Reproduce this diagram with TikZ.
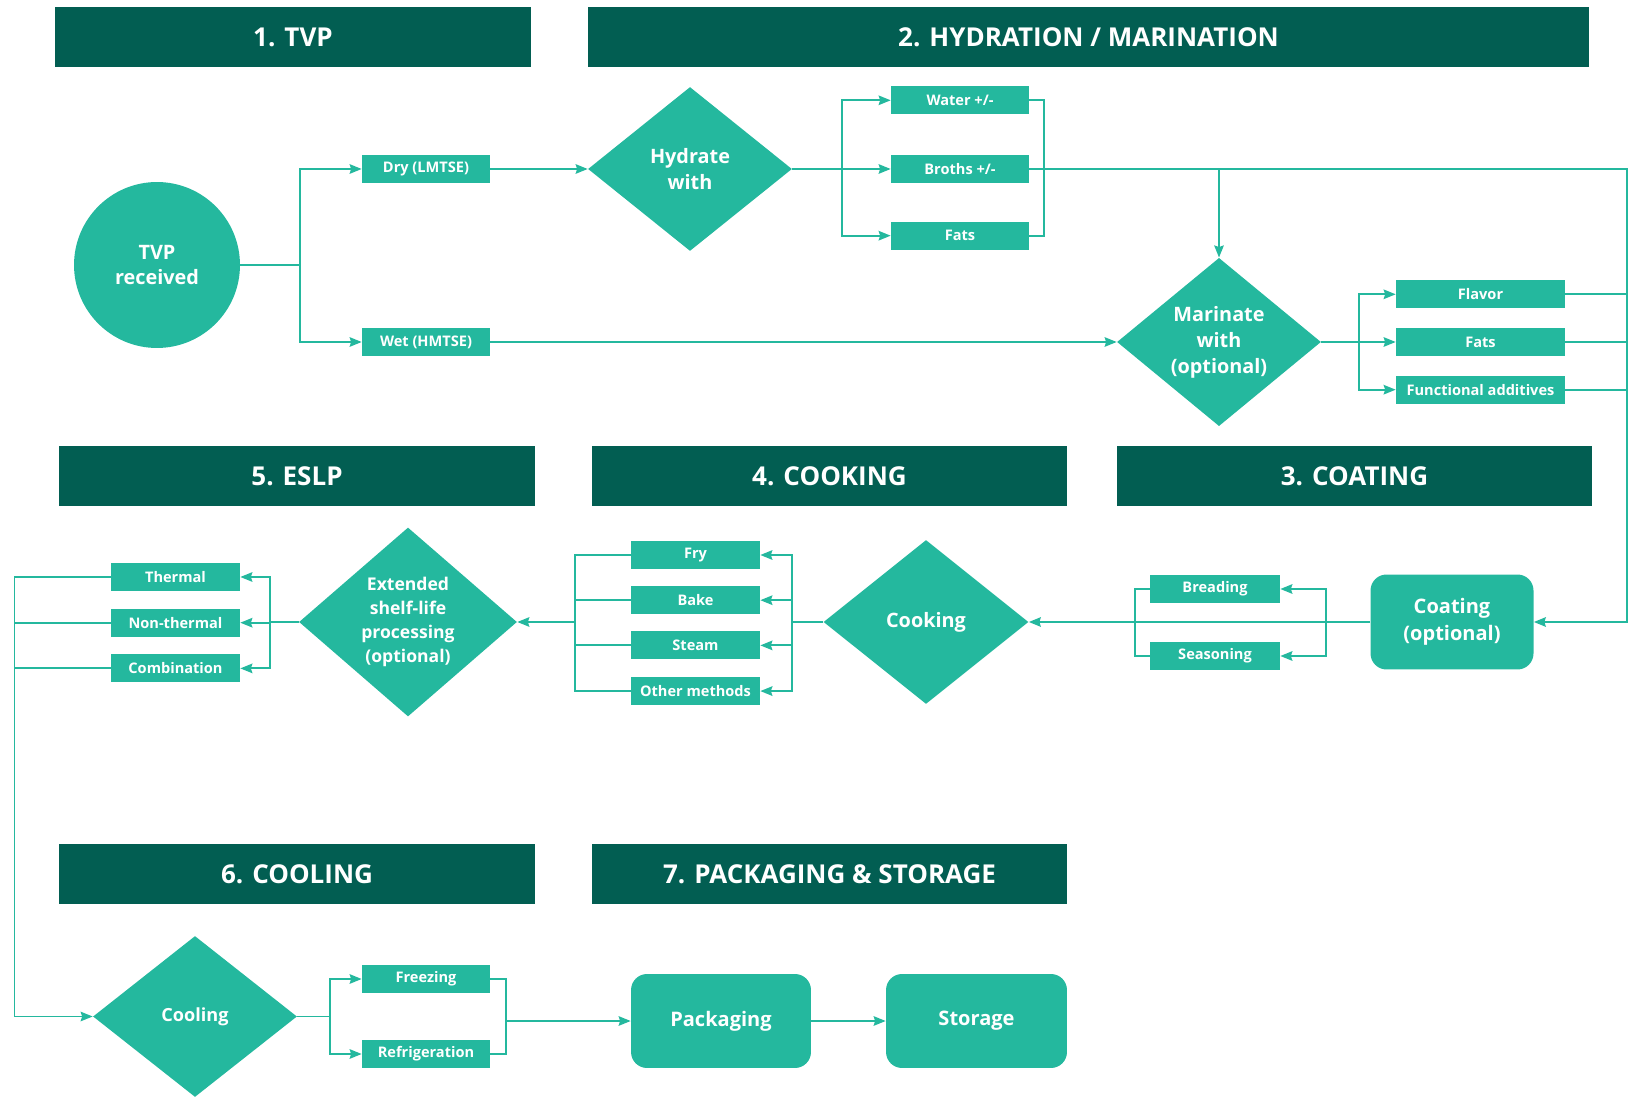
\documentclass[tikz,border=0pt]{standalone}
\usepackage{fontspec}
\setmainfont{Open Sans}
\usepackage{tikz}
\usetikzlibrary{shapes.geometric,arrows.meta,positioning,calc}
\definecolor{darkteal}{RGB}{2,94,82}
\definecolor{mint}{RGB}{36,184,158}
\tikzset{
	hdr/.style     = {rectangle,fill=darkteal,text=white,minimum width=9.52cm,
		minimum height=1.2cm,font=\bfseries\fontsize{14.8}{17}\selectfont},
	opt/.style     = {rectangle,fill=mint,text=white,minimum width=2.58cm,
		minimum height=0.56cm,inner sep=0pt,
		font=\bfseries\fontsize{8.3}{10}\selectfont},
	dec/.style     = {diamond,fill=mint,text=white,minimum width=4.08cm,
		minimum height=3.28cm,inner sep=0pt,align=center,
		font=\bfseries\fontsize{11.3}{14.8}\selectfont},
	stepbox/.style = {rectangle,rounded corners=0.32cm,fill=mint,text=white,
		minimum width=3.6cm,minimum height=1.88cm,align=center,
		font=\bfseries\fontsize{11.4}{15.4}\selectfont},
	startc/.style  = {circle,fill=mint,text=white,minimum size=3.32cm,
		inner sep=0pt,align=center,
		font=\bfseries\fontsize{11.3}{14.6}\selectfont},
	ln/.style      = {mint,line width=1.1pt},
	arr/.style     = {ln,-{Stealth[length=0.24cm,width=0.19cm,inset=0.03cm]}},
}

\begin{document}
\begin{tikzpicture}[x=0.02cm,y=-0.02cm]
	\useasboundingbox (0,0) rectangle (1629,1097);
	
	%% Bandeaux
	\node (h1) [hdr] at (293,37.5) {1. TVP};
	\node (h2) [hdr,minimum width=20.02cm] at (1088.5,37.5) {2. HYDRATION / MARINATION};
	\node (h5) [hdr] at (297,476) {5. ESLP};
	\node (h4) [hdr] at (829.5,476) {4. COOKING};
	\node (h3) [hdr] at (1354.5,476) {3. COATING};
	\node (h6) [hdr] at (297,874) {6. COOLING};
	\node (h7) [hdr] at (829.5,874) {7. PACKAGING \& STORAGE};
	
	%% 1. TVP
	\node (tvp) [startc] at (157,265) {TVP\\received};
	\node (dry) [opt,minimum width=2.56cm] at (426,169) {Dry (LMTSE)};
	\node (wet) [opt,minimum width=2.56cm] at (426,342) {Wet (HMTSE)};
	
	%% 2. Hydratation / marinade
	\node (hyd) [dec] at (690,169) {Hydrate\\with};
	\node (broths) [opt,minimum width=2.76cm] at (960,169) {Broths +/-};
	\node (water)  [opt,minimum width=2.76cm,above=0.8cm of broths] {Water +/-};
	\node (fats1)  [opt,minimum width=2.76cm,below=0.76cm of broths] {Fats};
	
	\node (mar) [dec] at (1219,342) {Marinate\\with\\(optional)};
	\node (fats2)  [opt,minimum width=3.38cm] at (1480.5,342) {Fats};
	\node (flavor) [opt,minimum width=3.38cm,above=0.38cm of fats2] {Flavor};
	\node (func)   [opt,minimum width=3.38cm,below=0.38cm of fats2] {Functional additives};
	
	%% 3. Coating
	\node (coat) [stepbox,minimum width=3.26cm,minimum height=1.9cm] at (1452,622)
	{Coating\\(optional)};
	\node (bread)  [opt,minimum width=2.6cm] at (1215,589) {Breading};
	\node (season) [opt,minimum width=2.6cm] at (1215,656) {Seasoning};
	
	%% 4. Cooking
	\node (cook) [dec,minimum width=4.1cm] at (926,622) {Cooking};
	\node (fry)   [opt] at (695.5,555) {Fry};
	\node (bake)  [opt,below=0.33cm of fry]  {Bake};
	\node (steam) [opt,below=0.33cm of bake] {Steam};
	\node (other) [opt,below=0.34cm of steam] {Other methods};
	
	%% 5. ESLP
	\node (eslp) [dec,minimum width=4.36cm,minimum height=3.78cm,
	font=\bfseries\fontsize{10}{13.6}\selectfont] at (408,622)
	{Extended\\shelf-life\\processing\\(optional)};
	\node (therm)    [opt] at (175.5,577) {Thermal};
	\node (nontherm) [opt,below=0.34cm of therm]    {Non-thermal};
	\node (combi)    [opt,below=0.34cm of nontherm] {Combination};
	
	%% 6. Cooling / 7. Packaging
	\node (cool) [dec,minimum height=3.22cm,
	font=\bfseries\fontsize{10.3}{13}\selectfont] at (195,1016.5) {Cooling};
	\node (freeze) [opt,minimum width=2.56cm] at (426,979) {Freezing};
	\node (refr)   [opt,minimum width=2.56cm] at (426,1054) {Refrigeration};
	\node (pack) [stepbox] at (721,1021) {Packaging};
	\node (stor) [stepbox,minimum width=3.62cm] at (976.5,1021) {Storage};
	
	%% Points de branchement
	\coordinate (t1) at (300,265);
	\coordinate (t2) at (842,169);
	\coordinate (t3) at (1359,342);
	\coordinate (e1) at (1627,169);
	\coordinate (t4) at (1326,622);
	\coordinate (t5) at (792,622);
	\coordinate (c5) at (575,622);
	\coordinate (t6) at (270,622);
	\coordinate (c6) at (14.5,1016.5);
	\coordinate (t7) at (330,1016.5);
	\coordinate (c7) at (506,1021);
	
	%% Fleches
	\draw[ln](tvp.east)--(t1);
	\draw[arr](t1)|-(dry.west);
	\draw[arr](t1)|-(wet.west);
	\draw[arr](dry.east)--(hyd.west);
	\draw[arr](wet.east)--(mar.west);
	
	\draw[ln](hyd.east)--(t2);
	\foreach \b in {water,broths,fats1} \draw[arr](t2)|-(\b.west);
	\draw[ln](water.east)--++(15,0)|-(fats1.east);
	\draw[arr](broths.east)--(e1)|-(coat.east);
	\draw[arr](broths.east -| mar.north)--(mar.north);
	
	\draw[ln](mar.east)--(t3);
	\foreach \b in {flavor,fats2,func} {
		\draw[arr](t3)|-(\b.west);
		\draw[ln](\b.east)--(\b.east -| e1);
	}
	
	\draw[arr](coat.west)--(cook.east);
	\draw[arr](t4)|-(bread.east);
	\draw[arr](t4)|-(season.east);
	\draw[ln](bread.west)--++(-15,0)|-(season.west);
	
	\draw[ln](cook.west)--(t5);
	\foreach \b in {fry,bake,steam,other} \draw[arr](t5)|-(\b.east);
	\draw[ln](fry.west)-|(c5)|-(other.west);
	\draw[ln](bake.west)--(bake.west -| c5);
	\draw[ln](steam.west)--(steam.west -| c5);
	\draw[arr](c5)--(eslp.east);
	
	\draw[ln](eslp.west)--(t6);
	\foreach \b in {therm,nontherm,combi} \draw[arr](t6)|-(\b.east);
	\draw[arr](therm.west)-|(c6)--(cool.west);
	\draw[ln](nontherm.west)--(nontherm.west -| c6);
	\draw[ln](combi.west)--(combi.west -| c6);
	
	\draw[ln](cool.east)--(t7);
	\draw[arr](t7)|-(freeze.west);
	\draw[arr](t7)|-(refr.west);
	\draw[ln](freeze.east)-|(c7)|-(refr.east);
	\draw[arr](c7)--(pack.west);
	\draw[arr](pack)--(stor);
\end{tikzpicture}
\end{document}
